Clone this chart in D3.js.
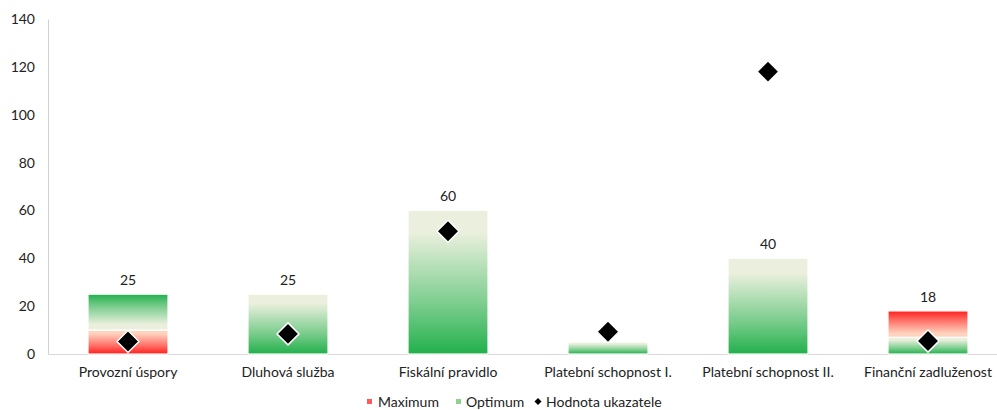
<!DOCTYPE html>
<html><head><meta charset="utf-8">
<script src="https://cdn.jsdelivr.net/npm/d3@7"></script>
<style>body{margin:0;background:#fff}svg{display:block}text{font-family:Lato,"Open Sans",sans-serif;fill:#222}</style>
</head><body><svg id="c" width="997" height="410"></svg>
<script>
const categories = ["Provozní úspory","Dluhová služba","Fiskální pravidlo","Platební schopnost I.","Platební schopnost II.","Finanční zadluženost"];
const bottomSeries = ["Maximum","Optimum","Optimum","Optimum","Optimum","Optimum"];
const bottomValues = [10, 25, 60, 5, 40, 7];
const topSeries = ["Optimum","Optimum","Optimum","Optimum","Optimum","Maximum"];
const topValues = [15, 0, 0, 0, 0, 11];
const totalLabels = [25, 25, 60, null, 40, 18];
const indicatorValues = [5.2, 8.4, 51.3, 9.3, 118, 5.4];
const yTicks = [0,20,40,60,80,100,120,140];
const legendNames = ["Maximum","Optimum","Hodnota ukazatele"];

const FS = "14px";
const svg = d3.select("#c");
const x = d3.scaleBand().domain(categories).range([48,1008]).paddingInner(0.5).paddingOuter(0.25);
const y = d3.scaleLinear().domain([0,140]).range([354,19]);

const col = {Maximum:["#ff1e1e","#ffd2bd"], Optimum:["#22b04c","#ebf0de"]};
const defs = svg.append("defs");
function grad(id, dark, light, darkAtBottom){
  const g = defs.append("linearGradient").attr("id",id).attr("x1",0).attr("x2",0)
    .attr("y1", darkAtBottom?1:0).attr("y2", darkAtBottom?0:1);
  g.append("stop").attr("offset","0%").attr("stop-color",dark);
  g.append("stop").attr("offset","35%").attr("stop-color",d3.interpolateRgb(dark,light)(0.45));
  g.append("stop").attr("offset","85%").attr("stop-color",light);
  g.append("stop").attr("offset","100%").attr("stop-color",light);
}
["Maximum","Optimum"].forEach(s=>{
  grad(s+"-b", col[s][0], col[s][1], true);
  grad(s+"-t", col[s][0], col[s][1], false);
});

// axes
const ax = svg.append("g").attr("transform","translate(48,0)").call(d3.axisLeft(y).tickValues(yTicks).tickSize(0).tickPadding(13));
ax.select(".domain").attr("stroke","#d0d0d0");
ax.selectAll("text").style("font-size",FS).style("font-family","Lato,sans-serif").attr("fill","#222");
svg.append("line").attr("x1",48).attr("x2",997).attr("y1",y(0)+0.5).attr("y2",y(0)+0.5).attr("stroke","#d9d9d9");

const xa = svg.append("g").attr("transform",`translate(0,${y(0)})`).call(d3.axisBottom(x).tickSize(0).tickPadding(13));
xa.select(".domain").remove();
xa.selectAll("text").style("font-size",FS).style("font-family","Lato,sans-serif").attr("fill","#222");

const bw = x.bandwidth();
const g = svg.append("g");
categories.forEach((c,i)=>{
  const b = bottomValues[i], t = topValues[i];
  const split = t>0;
  g.append("rect").attr("x",x(c)).attr("width",bw).attr("y",y(b)).attr("height",y(0)-y(b))
    .attr("fill",`url(#${bottomSeries[i]}-b)`).attr("stroke","#fff").attr("stroke-width",1.2);
  if(split){
    g.append("rect").attr("x",x(c)).attr("width",bw).attr("y",y(b+t)).attr("height",y(b)-y(b+t))
      .attr("fill",`url(#${topSeries[i]}-t)`).attr("stroke","#fff").attr("stroke-width",1.2);
  }
  if(totalLabels[i]!=null){
    g.append("text").attr("x",x(c)+bw/2).attr("y",y(b+t)-9).attr("text-anchor","middle")
      .style("font-size",FS).text(totalLabels[i]);
  }
});
const dia = (cx,cy,r)=>`M${cx},${cy-r}L${cx+r},${cy}L${cx},${cy+r}L${cx-r},${cy}Z`;
categories.forEach((c,i)=>{
  svg.append("path").attr("d",dia(x(c)+bw/2,y(indicatorValues[i]),11)).attr("fill","#000").attr("stroke","#fff").attr("stroke-width",1.5);
});

// legend
const lg = svg.append("g").attr("transform","translate(0,402)");
lg.append("rect").attr("x",367).attr("y",-3).attr("width",5).attr("height",5).attr("fill","#ff5a5a");
lg.append("text").attr("x",378).attr("y",5).style("font-size",FS).text(legendNames[0]);
lg.append("rect").attr("x",456).attr("y",-3).attr("width",5).attr("height",5).attr("fill","#8fcf8f");
lg.append("text").attr("x",466).attr("y",5).style("font-size",FS).text(legendNames[1]);
lg.append("path").attr("d",dia(538,-0.5,3.5)).attr("fill","#000");
lg.append("text").attr("x",546).attr("y",5).style("font-size",FS).text(legendNames[2]);
</script></body></html>
